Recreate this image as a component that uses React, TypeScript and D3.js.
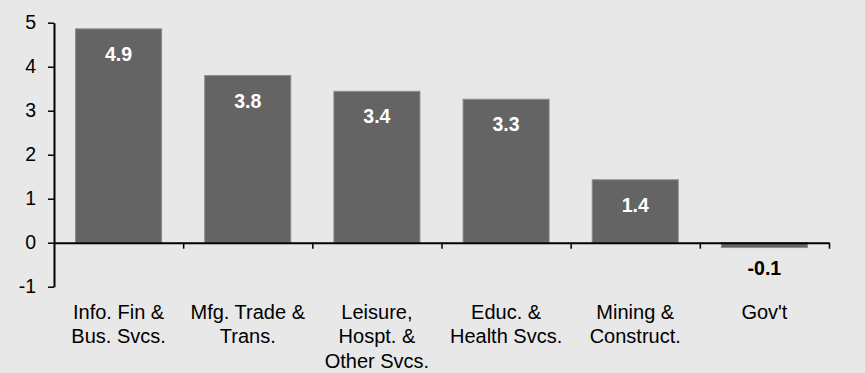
import { useEffect, useRef } from 'react';
import * as d3 from 'd3';

const categories = ["Info. Fin & Bus. Svcs.", "Mfg. Trade & Trans.", "Leisure, Hospt. & Other Svcs.", "Educ. & Health Svcs.", "Mining & Construct.", "Gov't"];
const categoryLines = [["Info. Fin &", "Bus. Svcs."], ["Mfg. Trade &", "Trans."], ["Leisure,", "Hospt. &", "Other Svcs."], ["Educ. &", "Health Svcs."], ["Mining &", "Construct."], ["Gov't"]];
const values = [4.86, 3.8, 3.44, 3.26, 1.43, -0.11];
const valueLabels = ["4.9", "3.8", "3.4", "3.3", "1.4", "-0.1"];
const yTicks = [-1, 0, 1, 2, 3, 4, 5];

export default function App() {
  const svgRef = useRef<SVGSVGElement>(null);

  useEffect(() => {
    if (!svgRef.current) return;
    const width = 865;
    const height = 373;
    const svg = d3.select(svgRef.current);
    svg.selectAll("*").remove();

    svg.append("rect")
      .attr("width", width)
      .attr("height", height)
      .attr("fill", "#e8e8e8");

    const left = 54, right = 829, top = 22.7, bottom = 286.7;

    const x = d3.scaleBand<string>()
      .domain(categories)
      .range([left, right])
      .paddingInner(0.334)
      .paddingOuter(0.167);

    const y = d3.scaleLinear()
      .domain([-1, 5])
      .range([bottom, top]);

    // bars
    svg.append("g")
      .selectAll("rect")
      .data(values)
      .join("rect")
      .attr("x", (_, i) => x(categories[i])!)
      .attr("width", x.bandwidth())
      .attr("y", d => y(Math.max(0, d)))
      .attr("height", d => Math.abs(y(d) - y(0)))
      .attr("fill", "#646464")
      .attr("stroke", "#8c8c8c")
      .attr("stroke-width", 1);

    // y axis
    const yAxis = svg.append("g")
      .attr("transform", `translate(${left},0)`)
      .call(d3.axisLeft(y).tickValues(yTicks).tickSize(6).tickSizeOuter(0).tickPadding(12).tickFormat(d => String(d)));
    yAxis.select(".domain").attr("stroke", "#000").attr("stroke-width", 2);
    yAxis.selectAll(".tick line").attr("stroke", "#000").attr("stroke-width", 1.5);
    yAxis.selectAll(".tick text")
      .attr("font-family", "'Liberation Sans', Arial, sans-serif")
      .attr("font-size", 19.5)
      .attr("fill", "#000");

    // zero line with category boundary ticks
    const boundary = d3.scaleLinear().domain([0, categories.length]).range([left, right]);
    const xAxis = svg.append("g")
      .attr("transform", `translate(0,${y(0)})`)
      .call(d3.axisBottom(boundary).tickValues(d3.range(1, categories.length + 1)).tickSize(6).tickSizeOuter(0).tickFormat(() => ""));
    xAxis.select(".domain").attr("stroke", "#000").attr("stroke-width", 2);
    xAxis.selectAll(".tick line").attr("stroke", "#000").attr("stroke-width", 1.5);

    // value labels
    svg.append("g")
      .selectAll("text")
      .data(values)
      .join("text")
      .attr("x", (_, i) => x(categories[i])! + x.bandwidth() / 2)
      .attr("y", d => d >= 0 ? y(d) + 32 : y(d) + 27)
      .attr("text-anchor", "middle")
      .attr("font-family", "'Liberation Sans', Arial, sans-serif")
      .attr("font-size", 19.5)
      .attr("font-weight", "bold")
      .attr("fill", d => d >= 0 ? "#fff" : "#000")
      .text((_, i) => valueLabels[i]);

    // category labels
    const cat = svg.append("g")
      .selectAll("text")
      .data(categoryLines)
      .join("text")
      .attr("text-anchor", "middle")
      .attr("font-family", "'Liberation Sans', Arial, sans-serif")
      .attr("font-size", 20)
      .attr("fill", "#000");
    cat.each(function (lines, i) {
      d3.select(this)
        .selectAll("tspan")
        .data(lines)
        .join("tspan")
        .attr("x", x(categories[i])! + x.bandwidth() / 2)
        .attr("y", (_, j) => 318.5 + j * 24.5)
        .text(d => d);
    });
  }, []);

  return (
    <svg
      ref={svgRef}
      width={865}
      height={373}
      style={{ position: 'absolute', left: 0, top: 0, display: 'block' }}
    />
  );
}
